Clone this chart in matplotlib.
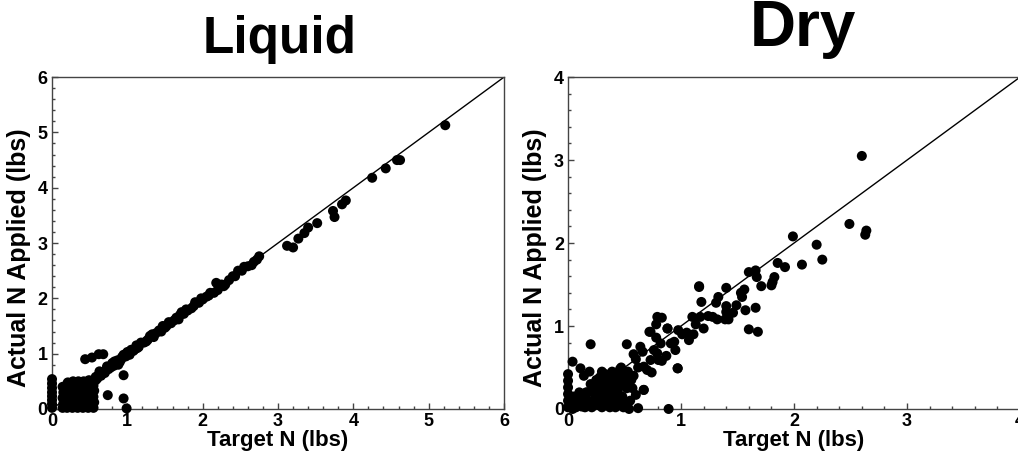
import matplotlib.pyplot as plt
from matplotlib.ticker import MultipleLocator

plt.rcParams['font.family'] = ['Liberation Sans', 'DejaVu Sans']
plt.rcParams['font.weight'] = 'bold'

# ---- Liquid data (target N, actual N) ----
liq_line_x = [0.55, 0.58, 0.60, 0.62, 0.65, 0.68, 0.70, 0.72, 0.75, 0.78, 0.80, 0.82, 0.85, 0.87,
              0.90, 0.92, 0.95, 0.98, 1.00, 1.02, 1.05, 1.08, 1.12, 1.15, 1.18, 1.22, 1.27, 1.30,
              1.35, 1.38, 1.42, 1.47, 1.50, 1.55, 1.58, 1.62, 1.65, 1.70, 1.72, 1.75, 1.80, 1.85,
              1.90, 1.95, 2.00, 2.05, 2.10, 2.15, 2.18, 2.20, 2.25, 2.30, 2.35, 2.40, 2.43, 2.47,
              2.55, 2.60, 2.65, 2.72, 2.75, 3.12, 3.20, 3.27, 3.35, 3.40, 3.52, 3.73, 3.75, 3.85,
              3.90, 4.25, 4.43, 4.58, 4.62, 5.22, 1.25, 1.45, 1.68, 1.98, 2.08, 0.88, 1.10,
              0.63, 0.73, 0.83, 0.93, 1.03, 1.13, 1.33, 1.52, 1.78, 1.88, 2.28, 2.52, 2.68]
liq_line_y = [0.50, 0.58, 0.55, 0.62, 0.60, 0.67, 0.65, 0.70, 0.72, 0.75, 0.83, 0.78, 0.82, 0.88,
              0.85, 0.90, 0.98, 0.95, 1.03, 1.00, 1.07, 1.05, 1.15, 1.12, 1.20, 1.20, 1.25, 1.32,
              1.30, 1.37, 1.42, 1.50, 1.47, 1.57, 1.55, 1.60, 1.65, 1.70, 1.75, 1.72, 1.78, 1.82,
              1.93, 1.92, 1.98, 2.03, 2.10, 2.10, 2.28, 2.15, 2.25, 2.25, 2.33, 2.40, 2.40, 2.50,
              2.57, 2.58, 2.60, 2.70, 2.76, 2.95, 2.92, 3.08, 3.18, 3.28, 3.36, 3.58, 3.47, 3.70,
              3.77, 4.18, 4.35, 4.50, 4.50, 5.13, 1.22, 1.40, 1.62, 2.00, 2.05, 0.80, 1.08,
              0.68, 0.77, 0.86, 0.94, 0.98, 1.10, 1.35, 1.50, 1.80, 1.86, 2.22, 2.50, 2.66]
liq_low_x = [0.00, 0.00, 0.00, 0.00, 0.00, 0.00, 0.00, 0.00,
             0.14, 0.14, 0.14, 0.15, 0.15, 0.20, 0.20, 0.20, 0.21, 0.21, 0.21,
             0.27, 0.27, 0.27, 0.28, 0.28, 0.28, 0.34, 0.34, 0.34, 0.35, 0.35, 0.35,
             0.41, 0.41, 0.41, 0.42, 0.42, 0.42, 0.48, 0.48, 0.48, 0.49, 0.49, 0.49,
             0.55, 0.55, 0.55, 0.56, 0.56, 0.58, 0.60, 0.17, 0.24, 0.31, 0.38, 0.45, 0.52,
             0.17, 0.24, 0.31, 0.38, 0.45, 0.52,
             0.44, 0.53, 0.62, 0.68, 0.95, 0.74, 0.95, 0.99]
liq_low_y = [0.02, 0.09, 0.16, 0.23, 0.30, 0.38, 0.46, 0.54,
             0.02, 0.20, 0.40, 0.10, 0.30, 0.02, 0.22, 0.45, 0.12, 0.33, 0.48,
             0.02, 0.20, 0.42, 0.11, 0.32, 0.50, 0.02, 0.22, 0.43, 0.12, 0.33, 0.50,
             0.02, 0.20, 0.42, 0.11, 0.32, 0.50, 0.02, 0.22, 0.43, 0.12, 0.33, 0.52,
             0.02, 0.22, 0.42, 0.12, 0.33, 0.52, 0.58, 0.06, 0.06, 0.06, 0.06, 0.06, 0.06,
             0.38, 0.38, 0.38, 0.38, 0.38, 0.38,
             0.90, 0.93, 0.99, 0.99, 0.61, 0.25, 0.19, 0.01]

# ---- Dry data (target N, actual N) ----
dry_line_x = [2.60, 2.49, 2.64, 2.63, 1.99, 2.20, 2.25, 2.07, 1.92, 1.855, 1.826, 1.81, 1.80, 1.71,
              1.67, 1.66, 1.60, 1.66, 1.68, 1.60, 1.57, 1.56, 1.53, 1.54, 1.49, 1.46, 1.40, 1.40,
              1.40, 1.42, 1.39, 1.33, 1.31, 1.32, 1.28, 1.24, 1.16, 1.18, 1.20, 1.17, 1.13, 1.10,
              1.11, 1.07, 1.05, 1.01, 0.975, 0.97, 0.88, 0.83, 0.78, 0.72, 0.78, 0.82, 0.91, 0.94,
              0.95, 0.87, 0.76, 0.79, 0.73, 0.67, 0.70, 0.74, 0.64, 0.67, 0.80, 0.83, 0.89, 0.62,
              0.73, 0.79, 0.88, 0.97, 1.16, 0.20, 0.04, 0.11, 0.14, 0.52, 0.58, 0.60, 0.66, 0.67, 0.60]
dry_line_y = [3.05, 2.23, 2.15, 2.10, 2.08, 1.98, 1.80, 1.74, 1.71, 1.76, 1.59, 1.53, 1.49, 1.48,
              1.59, 1.67, 1.65, 1.22, 0.93, 0.96, 1.19, 1.44, 1.40, 1.35, 1.25, 1.16, 1.46, 1.24,
              1.17, 1.08, 1.08, 1.35, 1.28, 1.08, 1.11, 1.12, 1.48, 1.29, 0.97, 1.11, 1.02, 1.11,
              0.90, 0.83, 0.92, 0.90, 0.95, 0.49, 0.97, 1.10, 1.02, 0.93, 0.86, 0.79, 0.79, 0.81,
              0.71, 0.64, 0.71, 0.67, 0.59, 0.51, 0.47, 0.44, 0.75, 0.23, 0.59, 0.58, 0.00, 0.01,
              0.93, 1.11, 0.97, 0.49, 1.47, 0.78, 0.57, 0.49, 0.40, 0.78, 0.66, 0.60, 0.69, 0.23, 0.17]
dry_low_x = [0.00, 0.00, 0.00, 0.00, 0.00, 0.00, 0.03, 0.05, 0.07, 0.09, 0.04, 0.08, 0.12,
             0.15, 0.15, 0.16, 0.18, 0.20, 0.21, 0.22, 0.24, 0.25, 0.26, 0.27, 0.28, 0.29, 0.30,
             0.31, 0.32, 0.33, 0.34, 0.35, 0.36, 0.37, 0.38, 0.39, 0.40, 0.41, 0.42, 0.43, 0.44,
             0.45, 0.46, 0.47, 0.48, 0.49, 0.50, 0.52, 0.53, 0.55, 0.25, 0.30, 0.35, 0.40, 0.45,
             0.28, 0.33, 0.38, 0.43, 0.48, 0.22, 0.27, 0.32, 0.37, 0.42, 0.47, 0.52, 0.56, 0.58, 0.62,
             0.19, 0.23, 0.26, 0.30, 0.34, 0.36, 0.39, 0.43, 0.46, 0.50, 0.17, 0.24, 0.29, 0.33,
             0.41, 0.44, 0.51, 0.12, 0.10, 0.54, 0.57]
dry_low_y = [0.02, 0.10, 0.18, 0.26, 0.34, 0.42, 0.05, 0.15, 0.02, 0.08, 0.00, 0.12, 0.03,
             0.02, 0.12, 0.20, 0.10, 0.30, 0.02, 0.22, 0.12, 0.35, 0.05, 0.25, 0.15, 0.38, 0.02,
             0.30, 0.18, 0.42, 0.08, 0.28, 0.38, 0.02, 0.20, 0.45, 0.12, 0.30, 0.02, 0.40, 0.22,
             0.10, 0.48, 0.32, 0.15, 0.02, 0.40, 0.25, 0.45, 0.10, 0.30, 0.45, 0.10, 0.28, 0.15,
             0.38, 0.05, 0.35, 0.08, 0.30, 0.20, 0.05, 0.32, 0.22, 0.12, 0.50, 0.05, 0.35, 0.40,
             0.50, 0.45, 0.06, 0.18, 0.28, 0.12, 0.22, 0.06, 0.18, 0.28, 0.08, 0.20, 0.30, 0.08,
             0.40, 0.33, 0.16, 0.30, 0.10, 0.20, 0.00, 0.25]

fig = plt.figure(figsize=(10.18, 4.59), dpi=100)
ax1 = fig.add_axes([0.0511, 0.109, 0.444, 0.723])
ax2 = fig.add_axes([0.558, 0.109, 0.444, 0.723])

panels = [(ax1, 6, liq_line_x + liq_low_x, liq_line_y + liq_low_y, 'Liquid', 0.275, 0.884, 37),
          (ax2, 4, dry_line_x + dry_low_x, dry_line_y + dry_low_y, 'Dry', 0.789, 0.900, 46)]

for ax, lim, xs, ys, title, tx, ty, tsize in panels:
    ax.plot([0, lim], [0, lim], color='black', lw=1, zorder=2)
    ax.scatter(xs, ys, s=52, color='black', edgecolors='none', clip_on=False, zorder=3)
    ax.set_xlim(0, lim)
    ax.set_ylim(0, lim)
    ax.xaxis.set_major_locator(MultipleLocator(1))
    ax.yaxis.set_major_locator(MultipleLocator(1))
    ax.xaxis.set_minor_locator(MultipleLocator(0.2))
    ax.yaxis.set_minor_locator(MultipleLocator(0.2))
    ax.tick_params(which='both', direction='in', colors='#444444', labelcolor='black',
                   labelsize=13, width=1)
    ax.tick_params(which='major', length=4, pad=3)
    ax.tick_params(which='minor', length=2.5)
    for sp in ax.spines.values():
        sp.set_color('#444444')
        sp.set_linewidth(1)
    ax.set_xlabel('Target N (lbs)', fontsize=16, fontweight='bold', labelpad=0)
    ax.set_ylabel('Actual N Applied (lbs)', fontsize=18, fontweight='bold')
    ax.yaxis.set_label_coords(-0.047, 0.455)
    fig.text(tx, ty, title, fontsize=tsize, fontweight='bold', ha='center', va='baseline')

fig.savefig('out.png', dpi=100)
